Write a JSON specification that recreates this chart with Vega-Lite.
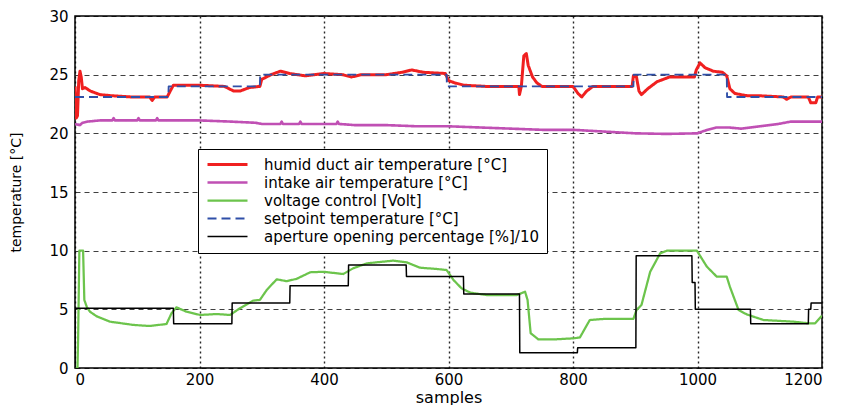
{
  "$schema": "https://vega.github.io/schema/vega-lite/v6.json",
  "width": 747,
  "height": 352,
  "autosize": {"type": "none"},
  "padding": {"left": 75, "top": 16, "right": 23, "bottom": 37},
  "background": "white",
  "config": {
    "view": {"stroke": "black", "strokeWidth": 1.5},
    "font": "DejaVu Sans"
  },
  "data": {"values": [
      {"k":"H","x":0,"y":24.0},{"k":"H","x":2,"y":21.3},{"k":"H","x":4,"y":21.5},{"k":"H","x":6,"y":24.5},{"k":"H","x":8,"y":25.3},{"k":"H","x":10,"y":24.8},{"k":"H","x":12,"y":23.8},{"k":"H","x":16,"y":23.9},{"k":"H","x":25,"y":23.6},{"k":"H","x":40,"y":23.3},{"k":"H","x":60,"y":23.2},{"k":"H","x":90,"y":23.1},{"k":"H","x":120,"y":23.1},{"k":"H","x":124,"y":22.8},{"k":"H","x":128,"y":23.1},{"k":"H","x":148,"y":23.1},{"k":"H","x":152,"y":23.5},{"k":"H","x":158,"y":24.1},{"k":"H","x":200,"y":24.1},{"k":"H","x":240,"y":24.0},{"k":"H","x":255,"y":23.6},{"k":"H","x":265,"y":23.6},{"k":"H","x":280,"y":23.9},{"k":"H","x":297,"y":24.0},{"k":"H","x":300,"y":24.6},{"k":"H","x":315,"y":25.0},{"k":"H","x":330,"y":25.3},{"k":"H","x":345,"y":25.1},{"k":"H","x":370,"y":24.9},{"k":"H","x":400,"y":25.1},{"k":"H","x":430,"y":25.0},{"k":"H","x":444,"y":24.8},{"k":"H","x":460,"y":25.0},{"k":"H","x":500,"y":25.0},{"k":"H","x":525,"y":25.2},{"k":"H","x":541,"y":25.4},{"k":"H","x":560,"y":25.2},{"k":"H","x":595,"y":25.1},{"k":"H","x":600,"y":24.5},{"k":"H","x":610,"y":24.3},{"k":"H","x":625,"y":24.1},{"k":"H","x":660,"y":24.0},{"k":"H","x":713,"y":24.0},{"k":"H","x":714,"y":23.3},{"k":"H","x":717,"y":24.0},{"k":"H","x":721,"y":26.6},{"k":"H","x":725,"y":26.8},{"k":"H","x":728,"y":25.8},{"k":"H","x":735,"y":24.8},{"k":"H","x":742,"y":24.3},{"k":"H","x":750,"y":24.0},{"k":"H","x":800,"y":24.0},{"k":"H","x":808,"y":23.4},{"k":"H","x":814,"y":23.1},{"k":"H","x":822,"y":23.6},{"k":"H","x":832,"y":24.0},{"k":"H","x":895,"y":24.0},{"k":"H","x":897,"y":24.9},{"k":"H","x":902,"y":24.8},{"k":"H","x":906,"y":23.6},{"k":"H","x":910,"y":23.3},{"k":"H","x":920,"y":23.8},{"k":"H","x":935,"y":24.4},{"k":"H","x":955,"y":24.8},{"k":"H","x":995,"y":24.8},{"k":"H","x":998,"y":25.4},{"k":"H","x":1004,"y":26.0},{"k":"H","x":1012,"y":25.6},{"k":"H","x":1025,"y":25.3},{"k":"H","x":1040,"y":25.2},{"k":"H","x":1047,"y":24.9},{"k":"H","x":1052,"y":23.8},{"k":"H","x":1060,"y":23.4},{"k":"H","x":1080,"y":23.2},{"k":"H","x":1100,"y":23.2},{"k":"H","x":1138,"y":23.1},{"k":"H","x":1143,"y":22.9},{"k":"H","x":1150,"y":23.1},{"k":"H","x":1178,"y":23.1},{"k":"H","x":1182,"y":22.6},{"k":"H","x":1190,"y":22.6},{"k":"H","x":1193,"y":23.1},{"k":"H","x":1200,"y":23.1},
      {"k":"I","x":0,"y":20.8},{"k":"I","x":8,"y":20.7},{"k":"I","x":12,"y":20.9},{"k":"I","x":20,"y":21.0},{"k":"I","x":40,"y":21.1},{"k":"I","x":60,"y":21.1},{"k":"I","x":62,"y":21.3},{"k":"I","x":64,"y":21.1},{"k":"I","x":100,"y":21.1},{"k":"I","x":102,"y":21.3},{"k":"I","x":104,"y":21.1},{"k":"I","x":130,"y":21.1},{"k":"I","x":132,"y":21.3},{"k":"I","x":134,"y":21.1},{"k":"I","x":200,"y":21.1},{"k":"I","x":250,"y":21.0},{"k":"I","x":290,"y":20.9},{"k":"I","x":300,"y":20.8},{"k":"I","x":330,"y":20.8},{"k":"I","x":332,"y":21.0},{"k":"I","x":334,"y":20.8},{"k":"I","x":360,"y":20.8},{"k":"I","x":362,"y":21.0},{"k":"I","x":364,"y":20.8},{"k":"I","x":400,"y":20.8},{"k":"I","x":420,"y":20.8},{"k":"I","x":422,"y":21.0},{"k":"I","x":424,"y":20.8},{"k":"I","x":450,"y":20.7},{"k":"I","x":500,"y":20.7},{"k":"I","x":550,"y":20.6},{"k":"I","x":600,"y":20.6},{"k":"I","x":650,"y":20.5},{"k":"I","x":700,"y":20.4},{"k":"I","x":750,"y":20.3},{"k":"I","x":800,"y":20.3},{"k":"I","x":850,"y":20.15},{"k":"I","x":900,"y":20.0},{"k":"I","x":950,"y":19.95},{"k":"I","x":1000,"y":20.0},{"k":"I","x":1010,"y":20.2},{"k":"I","x":1030,"y":20.5},{"k":"I","x":1050,"y":20.5},{"k":"I","x":1070,"y":20.4},{"k":"I","x":1100,"y":20.6},{"k":"I","x":1130,"y":20.8},{"k":"I","x":1150,"y":21.0},{"k":"I","x":1170,"y":21.0},{"k":"I","x":1200,"y":21.0},
      {"k":"V","x":0,"y":0},{"k":"V","x":4,"y":0},{"k":"V","x":5,"y":2.5},{"k":"V","x":7,"y":10},{"k":"V","x":13,"y":10},{"k":"V","x":15,"y":5.8},{"k":"V","x":19,"y":5.2},{"k":"V","x":24,"y":4.8},{"k":"V","x":35,"y":4.4},{"k":"V","x":56,"y":3.95},{"k":"V","x":94,"y":3.67},{"k":"V","x":120,"y":3.58},{"k":"V","x":147,"y":3.75},{"k":"V","x":155,"y":4.66},{"k":"V","x":163,"y":5.17},{"k":"V","x":179,"y":4.8},{"k":"V","x":201,"y":4.52},{"k":"V","x":228,"y":4.6},{"k":"V","x":249,"y":4.52},{"k":"V","x":265,"y":5.09},{"k":"V","x":286,"y":5.74},{"k":"V","x":297,"y":5.8},{"k":"V","x":308,"y":6.65},{"k":"V","x":324,"y":7.56},{"k":"V","x":340,"y":7.4},{"k":"V","x":356,"y":7.6},{"k":"V","x":378,"y":8.16},{"k":"V","x":399,"y":8.2},{"k":"V","x":431,"y":8.01},{"k":"V","x":447,"y":8.5},{"k":"V","x":469,"y":8.92},{"k":"V","x":511,"y":9.15},{"k":"V","x":533,"y":9.0},{"k":"V","x":554,"y":8.55},{"k":"V","x":581,"y":8.44},{"k":"V","x":597,"y":8.35},{"k":"V","x":608,"y":7.5},{"k":"V","x":621,"y":6.79},{"k":"V","x":635,"y":6.42},{"k":"V","x":661,"y":6.22},{"k":"V","x":710,"y":6.22},{"k":"V","x":723,"y":6.5},{"k":"V","x":727,"y":5.8},{"k":"V","x":732,"y":2.96},{"k":"V","x":744,"y":2.45},{"k":"V","x":774,"y":2.45},{"k":"V","x":801,"y":2.53},{"k":"V","x":811,"y":2.6},{"k":"V","x":827,"y":4.09},{"k":"V","x":849,"y":4.18},{"k":"V","x":897,"y":4.18},{"k":"V","x":902,"y":4.94},{"k":"V","x":910,"y":5.37},{"k":"V","x":924,"y":8.2},{"k":"V","x":940,"y":9.77},{"k":"V","x":951,"y":10.0},{"k":"V","x":999,"y":10.0},{"k":"V","x":1015,"y":8.64},{"k":"V","x":1031,"y":7.78},{"k":"V","x":1047,"y":7.78},{"k":"V","x":1052,"y":6.93},{"k":"V","x":1066,"y":4.94},{"k":"V","x":1079,"y":4.57},{"k":"V","x":1106,"y":4.09},{"k":"V","x":1154,"y":3.95},{"k":"V","x":1178,"y":3.81},{"k":"V","x":1189,"y":3.81},{"k":"V","x":1200,"y":4.46},
      {"k":"S","x":0,"y":23.1},{"k":"S","x":150,"y":23.1},{"k":"S","x":150.5,"y":24.0},{"k":"S","x":297,"y":24.0},{"k":"S","x":297.5,"y":25.0},{"k":"S","x":597,"y":25.0},{"k":"S","x":597.5,"y":24.0},{"k":"S","x":897,"y":24.0},{"k":"S","x":897.5,"y":25.0},{"k":"S","x":1047,"y":25.0},{"k":"S","x":1047.5,"y":23.1},{"k":"S","x":1200,"y":23.1},
      {"k":"A","x":0,"y":0},{"k":"A","x":0.5,"y":5.1},{"k":"A","x":158,"y":5.1},{"k":"A","x":158.5,"y":3.78},{"k":"A","x":252,"y":3.78},{"k":"A","x":252.5,"y":5.54},{"k":"A","x":345,"y":5.54},{"k":"A","x":345.5,"y":7.02},{"k":"A","x":439,"y":7.02},{"k":"A","x":439.5,"y":8.78},{"k":"A","x":532,"y":8.78},{"k":"A","x":532.5,"y":7.79},{"k":"A","x":624,"y":7.79},{"k":"A","x":624.5,"y":6.31},{"k":"A","x":714,"y":6.31},{"k":"A","x":714.5,"y":1.31},{"k":"A","x":807,"y":1.31},{"k":"A","x":807.5,"y":1.73},{"k":"A","x":901,"y":1.73},{"k":"A","x":901.5,"y":9.57},{"k":"A","x":991,"y":9.57},{"k":"A","x":991.5,"y":7.28},{"k":"A","x":996,"y":7.28},{"k":"A","x":996.5,"y":5.0},{"k":"A","x":1085,"y":5.0},{"k":"A","x":1085.5,"y":3.78},{"k":"A","x":1178,"y":3.78},{"k":"A","x":1178.5,"y":5.0},{"k":"A","x":1182,"y":5.0},{"k":"A","x":1182.5,"y":5.54},{"k":"A","x":1200,"y":5.54}
  ]},
  "mark": {"type": "line", "clip": true, "strokeJoin": "round"},
  "encoding": {
    "x": {
      "field": "x", "type": "quantitative",
      "scale": {"domain": [0, 1200], "nice": false},
      "axis": {
        "values": [0, 200, 400, 600, 800, 1000, 1200], "format": "d",
        "title": "samples", "grid": true, "gridDash": [2, 3], "gridColor": "#000", "gridOpacity": 0.85, "gridWidth": 1.4,
        "ticks": false, "domain": false, "labelFontSize": 15, "labelColor": "#000", "labelPadding": 4,
        "titleFontSize": 16, "titleFontWeight": "normal", "titleColor": "#000", "titlePadding": 2
      }
    },
    "y": {
      "field": "y", "type": "quantitative",
      "scale": {"domain": [0, 30], "nice": false},
      "axis": {
        "values": [0, 5, 10, 15, 20, 25, 30],
        "title": "temperature [°C]", "grid": true, "gridDash": [5, 4], "gridColor": "#000", "gridOpacity": 0.75, "gridWidth": 1,
        "ticks": false, "domain": false, "labelFontSize": 15, "labelColor": "#000", "labelPadding": 7,
        "titleFontSize": 14, "titleFontWeight": "normal", "titleColor": "#000", "titlePadding": 25
      }
    },
    "color": {
      "field": "k", "type": "nominal",
      "scale": {"domain": ["H", "I", "V", "S", "A"], "range": ["#f02020", "#c050b4", "#6cc44c", "#2f4fa8", "#000000"]},
      "legend": {
        "orient": "none", "legendX": 123, "legendY": 133, "title": null,
        "labelExpr": "{'H':'humid duct air temperature [°C]','I':'intake air temperature [°C]','V':'voltage control [Volt]','S':'setpoint temperature [°C]','A':'aperture opening percentage [%]/10'}[datum.value]",
        "strokeColor": "#000", "fillColor": "#fff", "padding": 8,
        "labelFontSize": 15, "labelColor": "#000", "labelOffset": 15, "labelLimit": 500,
        "symbolType": "stroke", "symbolSize": 1600, "symbolStrokeWidth": 2, "clipHeight": 15, "rowPadding": 2
      }
    },
    "strokeDash": {
      "field": "k", "type": "nominal",
      "scale": {"domain": ["H", "I", "V", "S", "A"], "range": [[1, 0], [1, 0], [1, 0], [9, 5], [1, 0]]}
    },
    "strokeWidth": {
      "field": "k", "type": "nominal",
      "scale": {"domain": ["H", "I", "V", "S", "A"], "range": [3, 1.5, 1.2, 3, 1.5]}
    }
  }
}
